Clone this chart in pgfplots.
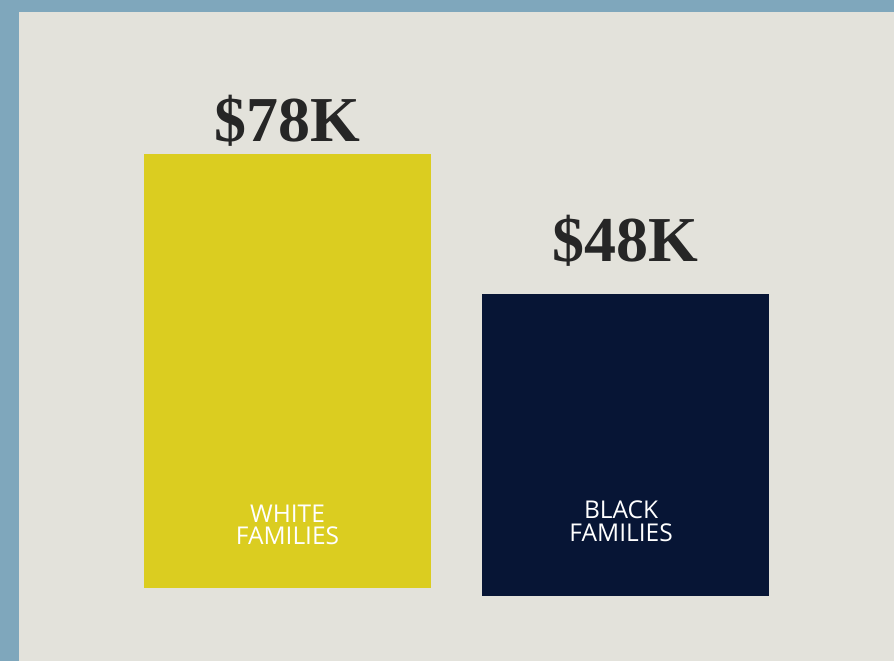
\documentclass[border=0pt]{standalone}
\usepackage{pgfplots}
\pgfplotsset{compat=1.18}
\usepackage{fontspec}
\newfontfamily\valfont{Liberation Serif}
\newfontfamily\catfont{Open Sans}
\definecolor{frame}{HTML}{7FA7BC}
\definecolor{paper}{HTML}{E3E2DB}
\definecolor{ybar}{HTML}{DBCD20}
\definecolor{nbar}{HTML}{071535}
\begin{document}
\begin{tikzpicture}
\begin{axis}[
  width=894bp, height=661bp, scale only axis,
  xmin=-0.8506, xmax=1.7944,
  ymin=-13.12, ymax=105.68,
  hide axis, clip=false,
]
% frame and paper
\fill[frame] (rel axis cs:0,0) rectangle (rel axis cs:1,1);
\fill[paper] (rel axis cs:0.02125,0) rectangle (rel axis cs:1,0.98185);

% white families
\addplot[fill=ybar, draw=none] coordinates {(-0.4246,0) (-0.4246,78) (0.4246,78) (0.4246,0)} -- cycle;
% black families (bar sits a little lower in the original)
\addplot[fill=nbar, draw=none] coordinates {(0.5754,-1.44) (0.5754,52.84) (1.4246,52.84) (1.4246,-1.44)} -- cycle;

\node[anchor=base, inner sep=0pt, text=black!85] at (axis cs:0,80.2)
  {\valfont\bfseries\fontsize{64bp}{64bp}\selectfont\$78K};
\node[anchor=base, inner sep=0pt, text=black!85] at (axis cs:1,58.6)
  {\valfont\bfseries\fontsize{64bp}{64bp}\selectfont\$48K};

\node[anchor=base, inner sep=0pt, text=white] at (axis cs:0,11.86)
  {\catfont\fontsize{24.5bp}{24bp}\selectfont WHITE};
\node[anchor=base, inner sep=0pt, text=white] at (axis cs:0,7.73)
  {\catfont\fontsize{24.5bp}{24bp}\selectfont FAMILIES};
\node[anchor=base, inner sep=0pt, text=white] at (axis cs:0.987,12.58)
  {\catfont\fontsize{24.5bp}{24bp}\selectfont BLACK};
\node[anchor=base, inner sep=0pt, text=white] at (axis cs:0.987,8.27)
  {\catfont\fontsize{24.5bp}{24bp}\selectfont FAMILIES};
\end{axis}
\end{tikzpicture}
\end{document}
